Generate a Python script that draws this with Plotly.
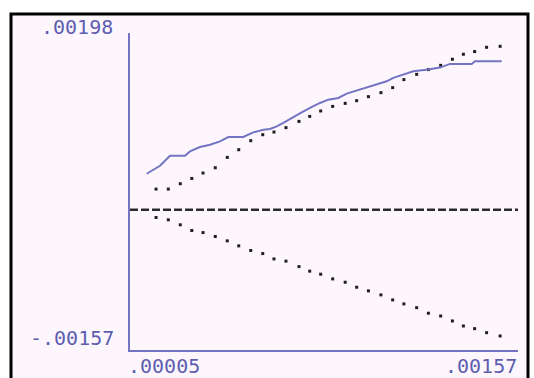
import plotly.graph_objects as go

# Dotted reference bounds (shared x positions)
band_x = [0.000152, 0.000200, 0.000247, 0.000292, 0.000336, 0.000384, 0.000431, 0.000476,
          0.000523, 0.000570, 0.000614, 0.000661, 0.000712, 0.000754, 0.000797, 0.000844,
          0.000893, 0.000938, 0.000984, 0.001033, 0.001079, 0.001123, 0.001173, 0.001219,
          0.001267, 0.001313, 0.001356, 0.001400, 0.001447, 0.001500]
upper = [0.000232, 0.000232, 0.000292, 0.000351, 0.000412, 0.000471, 0.000587, 0.000673,
         0.000774, 0.000841, 0.000871, 0.000920, 0.000990, 0.001046, 0.001107, 0.001158,
         0.001192, 0.001222, 0.001267, 0.001312, 0.001368, 0.001458, 0.001517, 0.001570,
         0.001618, 0.001686, 0.001742, 0.001772, 0.001820, 0.001831]
lower = [-0.0000863, -0.000112, -0.000168, -0.000232, -0.000255, -0.000299, -0.000348, -0.000404,
         -0.000456, -0.000490, -0.000550, -0.000575, -0.000636, -0.000687, -0.000721, -0.000774,
         -0.000811, -0.000867, -0.000908, -0.000953, -0.001009, -0.001054, -0.001096, -0.001158,
         -0.001189, -0.001245, -0.001301, -0.001331, -0.001376, -0.001413]

# Main cumulative series
series_x = [0.0001154, 0.0001284, 0.0001675, 0.0002067, 0.0002655, 0.0002851, 0.0003242,
            0.0003634, 0.0004026, 0.0004351, 0.0004939, 0.0005330, 0.0005722, 0.0005985,
            0.0006247, 0.0006506, 0.0006897, 0.0007226, 0.0007552, 0.0007943, 0.0008268,
            0.0008660, 0.0008989, 0.0009381, 0.0009773, 0.0010164, 0.0010556, 0.0010815,
            0.0011207, 0.0011598, 0.0012186, 0.0012644, 0.0013036, 0.0013886, 0.0014015,
            0.0015061]
series_y = [0.0004037, 0.0004261, 0.0004934, 0.0006056, 0.0006056, 0.0006538, 0.0007031,
            0.0007289, 0.0007659, 0.0008153, 0.0008153, 0.0008669, 0.0008971, 0.0009050,
            0.0009341, 0.0009723, 0.0010396, 0.0010911, 0.0011405, 0.0011966, 0.0012336,
            0.0012526, 0.0013009, 0.0013345, 0.0013648, 0.0014018, 0.0014388, 0.0014769,
            0.0015139, 0.0015509, 0.0015700, 0.0015924, 0.0016339, 0.0016339, 0.0016631,
            0.0016631]

# Axis range and end labels
x_range = [0.00005, 0.00157]
y_range = [-0.00157, 0.00198]
x_labels = [".00005", ".00157"]
y_labels = [".00198", "-.00157"]

AXIS_BLUE = "#7474c2"
TEXT_BLUE = "#5e5eb0"
BG = "#fdf7fd"
FONT = dict(family="DejaVu Sans Mono", size=20, color=TEXT_BLUE)

fig = go.Figure()

# zero reference line
fig.add_trace(go.Scatter(
    x=x_range, y=[0, 0], mode="lines",
    line=dict(color="#2a2a2a", width=2.5, dash="8px,3px"),
    hoverinfo="skip", showlegend=False))

for band in (upper, lower):
    fig.add_trace(go.Scatter(
        x=band_x, y=band, mode="markers",
        marker=dict(symbol="square", size=3, color="#1e1e1e", line=dict(width=0)),
        showlegend=False))

fig.add_trace(go.Scatter(
    x=series_x, y=series_y, mode="lines",
    line=dict(color=AXIS_BLUE, width=2),
    showlegend=False))

axis_common = dict(showgrid=False, zeroline=False, showticklabels=False, ticks="",
                   showline=True, linecolor=AXIS_BLUE, linewidth=2, mirror=False, fixedrange=True)
fig.update_xaxes(range=x_range, **axis_common)
fig.update_yaxes(range=y_range, **axis_common)

W, H = 534, 378
ml, mr, mt, mb = 130, 16, 33, 28
pw, ph = W - ml - mr, H - mt - mb


def px_x(p):
    return (p - ml) / pw


def px_y(p):
    return (H - mb - p) / ph


annotations = [
    dict(text=y_labels[0], x=px_x(115), y=px_y(27), xanchor="right", yanchor="middle"),
    dict(text=y_labels[1], x=px_x(116), y=px_y(338), xanchor="right", yanchor="middle"),
    dict(text=x_labels[0], x=px_x(126), y=px_y(366), xanchor="left", yanchor="middle"),
    dict(text=x_labels[1], x=px_x(519), y=px_y(366), xanchor="right", yanchor="middle"),
]
for a in annotations:
    a.update(xref="paper", yref="paper", showarrow=False, font=FONT)

fig.update_layout(
    width=W, height=H,
    margin=dict(l=ml, r=mr, t=mt, b=mb, pad=0),
    paper_bgcolor="white",
    plot_bgcolor=BG,
    annotations=annotations,
    shapes=[dict(type="rect", xref="paper", yref="paper",
                 x0=px_x(11), x1=px_x(528), y0=px_y(390), y1=px_y(14),
                 line=dict(color="black", width=3), fillcolor=BG, layer="below")],
)

fig.write_html("out.html", config=dict(displayModeBar=False))
